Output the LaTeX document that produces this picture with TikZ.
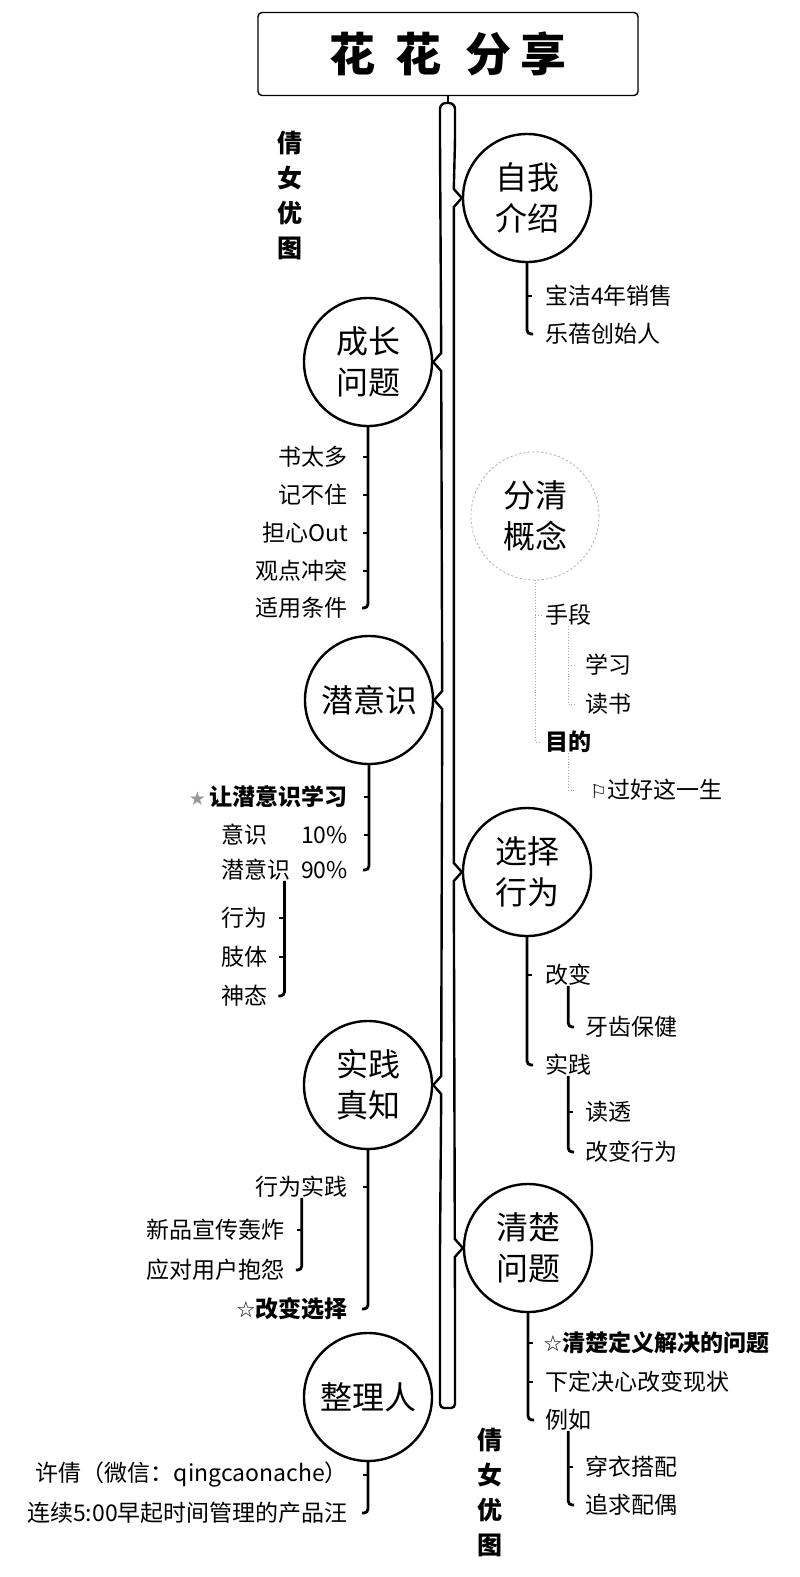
\documentclass[tikz,border=0pt]{standalone}
\usepackage{fontspec}
\setmainfont{Noto Sans CJK SC}
\newfontfamily\symfont{DejaVu Sans}
\usetikzlibrary{calc}
\tikzset{>=stealth}
\tikzset{
  topic/.style={circle, draw, line width=2.4pt, minimum size=128pt, inner sep=0pt, align=center, font=\fontsize{32}{41}\selectfont},
  leafL/.style={anchor=east, inner sep=0pt, font=\fontsize{23}{28}\selectfont},
  leafR/.style={anchor=west, inner sep=0pt, font=\fontsize{23}{28}\selectfont},
  bline/.style={line width=2.8pt, rounded corners=4pt},
  dline/.style={dotted, gray!70, line width=0.8pt},
  spine/.style={line width=2.4pt},
  sidemark/.style={align=center, font=\bfseries\fontsize{25}{35}\selectfont}
}

\begin{document}
\begin{tikzpicture}[x=1pt,y=-1pt]
      \useasboundingbox (0,0) rectangle (800,1577);
      \node[draw, line width=1.4pt, rounded corners=4pt, minimum width=380pt, minimum height=83pt, font=\bfseries\fontsize{46}{50}\selectfont] at (448,54) (title) {花\hspace{21pt}花\hspace{24pt}分\hspace{9pt}享};
      \node[sidemark] at (290,196) (mk1) {倩\\女\\优\\图};
      \node[sidemark] at (490,1492) (mk2) {倩\\女\\优\\图};
      % main topics
      \node[topic] at (527,198) (zw) {自我\\介绍};
      \node[topic] at (368,362) (cz) {成长\\问题};
      \node[topic, draw=gray!60, dotted, line width=0.8pt] at (535,516) (fq) {分清\\概念};
      \node[topic] at (369,700) (qy) {潜意识};
      \node[topic] at (527,872) (xz) {选择\\行为};
      \node[topic] at (368,1085) (sj) {实践\\真知};
      \node[topic] at (528,1248) (qc) {清楚\\问题};
      \node[topic] at (368,1397) (zl) {整理人};
      % spine
      \draw[spine] (title.south) -- (448,103);
      \draw[spine] (440,1250) -- ($(sj.east)+(8,9)$) -- (sj.east) -- ($(sj.east)+(8,-9)$)
        -- ($(qy.east)+(8,9)$) -- (qy.east) -- ($(qy.east)+(8,-9)$)
        -- ($(cz.east)+(8,9)$) -- (cz.east) -- ($(cz.east)+(8,-9)$)
        -- (440,140) [rounded corners=6pt] -- (440,103) -- (455,103) -- (455,140) [sharp corners]
        -- ($(zw.west)+(-8,-9)$) -- (zw.west) -- ($(zw.west)+(-8,9)$)
        -- ($(xz.west)+(-8,-9)$) -- (xz.west) -- ($(xz.west)+(-8,9)$)
        -- ($(qc.west)+(-8,-9)$) -- (qc.west) -- ($(qc.west)+(-8,9)$)
        -- (455,1300) [rounded corners=4pt] -- (455,1408) -- (440,1408) -- (440,1250);
      % zw
      \node[leafR] at (545,296) (zw1) {宝洁4年销售};
      \node[leafR] at (545,334) (zw2) {乐蓓创始人};
      \draw[bline] (zw.south) |- ($(zw.south |- zw2.west)+(6,0)$);
      \draw[bline] (zw.south |- zw1.west) -- ++(5,0);
      % cz
      \node[leafL] at (348,457) (cz1) {书太多};
      \node[leafL] at (348,495) (cz2) {记不住};
      \node[leafL] at (348,533) (cz3) {担心Out};
      \node[leafL] at (348,571) (cz4) {观点冲突};
      \node[leafL] at (348,608) (cz5) {适用条件};
      \draw[bline] (cz.south) |- ($(cz.south |- cz5.east)+(-6,0)$);
      \draw[bline] (cz.south |- cz1.east) -- ++(-5,0);
      \draw[bline] (cz.south |- cz2.east) -- ++(-5,0);
      \draw[bline] (cz.south |- cz3.east) -- ++(-5,0);
      \draw[bline] (cz.south |- cz4.east) -- ++(-5,0);
      % fq
      \node[leafR] at (545,615) (fq1) {手段};
      \node[leafR] at (585,665) (fq11) {学习};
      \node[leafR] at (585,704) (fq12) {读书};
      \node[leafR, font=\bfseries\fontsize{23}{28}\selectfont] at (545,742) (fq2) {目的};
      \node[leafR] at (590,790) (fq21) {{\symfont\fontsize{19}{19}\selectfont ⚐}过好这一生};
      \draw[dline] (fq.south) |- ($(fq.south |- fq2.west)+(6,0)$);
      \draw[dline] (fq.south |- fq1.west) -- ++(6,0);
      \draw[dline] (fq1.south) |- ($(fq1.south |- fq12.west)+(6,0)$);
      \draw[dline] (fq1.south |- fq11.west) -- ++(6,0);
      \draw[dline] (fq2.south) |- ($(fq2.south |- fq21.west)+(6,0)$);
      % qy
      \node[leafL] at (348,797) (qy1) {{\symfont\fontsize{19}{19}\selectfont\textcolor{gray!80}{★}}\,\textbf{让潜意识学习}};
      \node[leafL] at (348,835) (qy2) {意识\hspace{34pt}10\%};
      \node[leafL] at (348,870) (qy3) {潜意识\hspace{11pt}90\%};
      \node[leafL] at (268,918) (qy31) {行为};
      \node[leafL] at (268,957) (qy32) {肢体};
      \node[leafL] at (268,996) (qy33) {神态};
      \draw[bline] (qy.south) |- ($(qy.south |- qy3.east)+(-6,0)$);
      \draw[bline] (qy.south |- qy1.east) -- ++(-5,0);
      \draw[bline] (qy.south |- qy2.east) -- ++(-5,0);
      \draw[bline] (qy3.south) |- ($(qy3.south |- qy33.east)+(-6,0)$);
      \draw[bline] (qy3.south |- qy31.east) -- ++(-5,0);
      \draw[bline] (qy3.south |- qy32.east) -- ++(-5,0);
      % xz
      \node[leafR] at (545,975) (xz1) {改变};
      \node[leafR] at (585,1027) (xz11) {牙齿保健};
      \node[leafR] at (545,1065) (xz2) {实践};
      \node[leafR] at (585,1112) (xz21) {读透};
      \node[leafR] at (585,1152) (xz22) {改变行为};
      \draw[bline] (xz.south) |- ($(xz.south |- xz2.west)+(6,0)$);
      \draw[bline] (xz.south |- xz1.west) -- ++(5,0);
      \draw[bline] (xz1.south) |- ($(xz1.south |- xz11.west)+(6,0)$);
      \draw[bline] (xz2.south) |- ($(xz2.south |- xz22.west)+(6,0)$);
      \draw[bline] (xz2.south |- xz21.west) -- ++(5,0);
      % sj
      \node[leafL] at (348,1187) (sj1) {行为实践};
      \node[leafL] at (285,1230) (sj11) {新品宣传轰炸};
      \node[leafL] at (285,1270) (sj12) {应对用户抱怨};
      \node[leafL] at (348,1309) (sj2) {{\symfont\fontsize{22}{22}\selectfont ☆}\textbf{改变选择}};
      \draw[bline] (sj.south) |- ($(sj.south |- sj2.east)+(-6,0)$);
      \draw[bline] (sj.south |- sj1.east) -- ++(-5,0);
      \draw[bline] (sj1.south) |- ($(sj1.south |- sj12.east)+(-6,0)$);
      \draw[bline] (sj1.south |- sj11.east) -- ++(-5,0);
      % qc
      \node[leafR] at (543,1343) (qc1) {{\symfont\fontsize{22}{22}\selectfont ☆}\textbf{清楚定义解决的问题}};
      \node[leafR] at (545,1382) (qc2) {下定决心改变现状};
      \node[leafR] at (545,1420) (qc3) {例如};
      \node[leafR] at (585,1467) (qc31) {穿衣搭配};
      \node[leafR] at (585,1505) (qc32) {追求配偶};
      \draw[bline] (qc.south) |- ($(qc.south |- qc3.west)+(6,0)$);
      \draw[bline] (qc.south |- qc1.west) -- ++(5,0);
      \draw[bline] (qc.south |- qc2.west) -- ++(5,0);
      \draw[bline] (qc3.south) |- ($(qc3.south |- qc32.west)+(6,0)$);
      \draw[bline] (qc3.south |- qc31.west) -- ++(5,0);
      % zl
      \node[leafL] at (348,1475) (zl1) {许倩（微信：qingcaonache）};
      \node[leafL] at (348,1513) (zl2) {连续5:00早起时间管理的产品汪};
      \draw[bline] (zl.south) |- ($(zl.south |- zl2.east)+(-6,0)$);
      \draw[bline] (zl.south |- zl1.east) -- ++(-5,0);
\end{tikzpicture}
\end{document}
